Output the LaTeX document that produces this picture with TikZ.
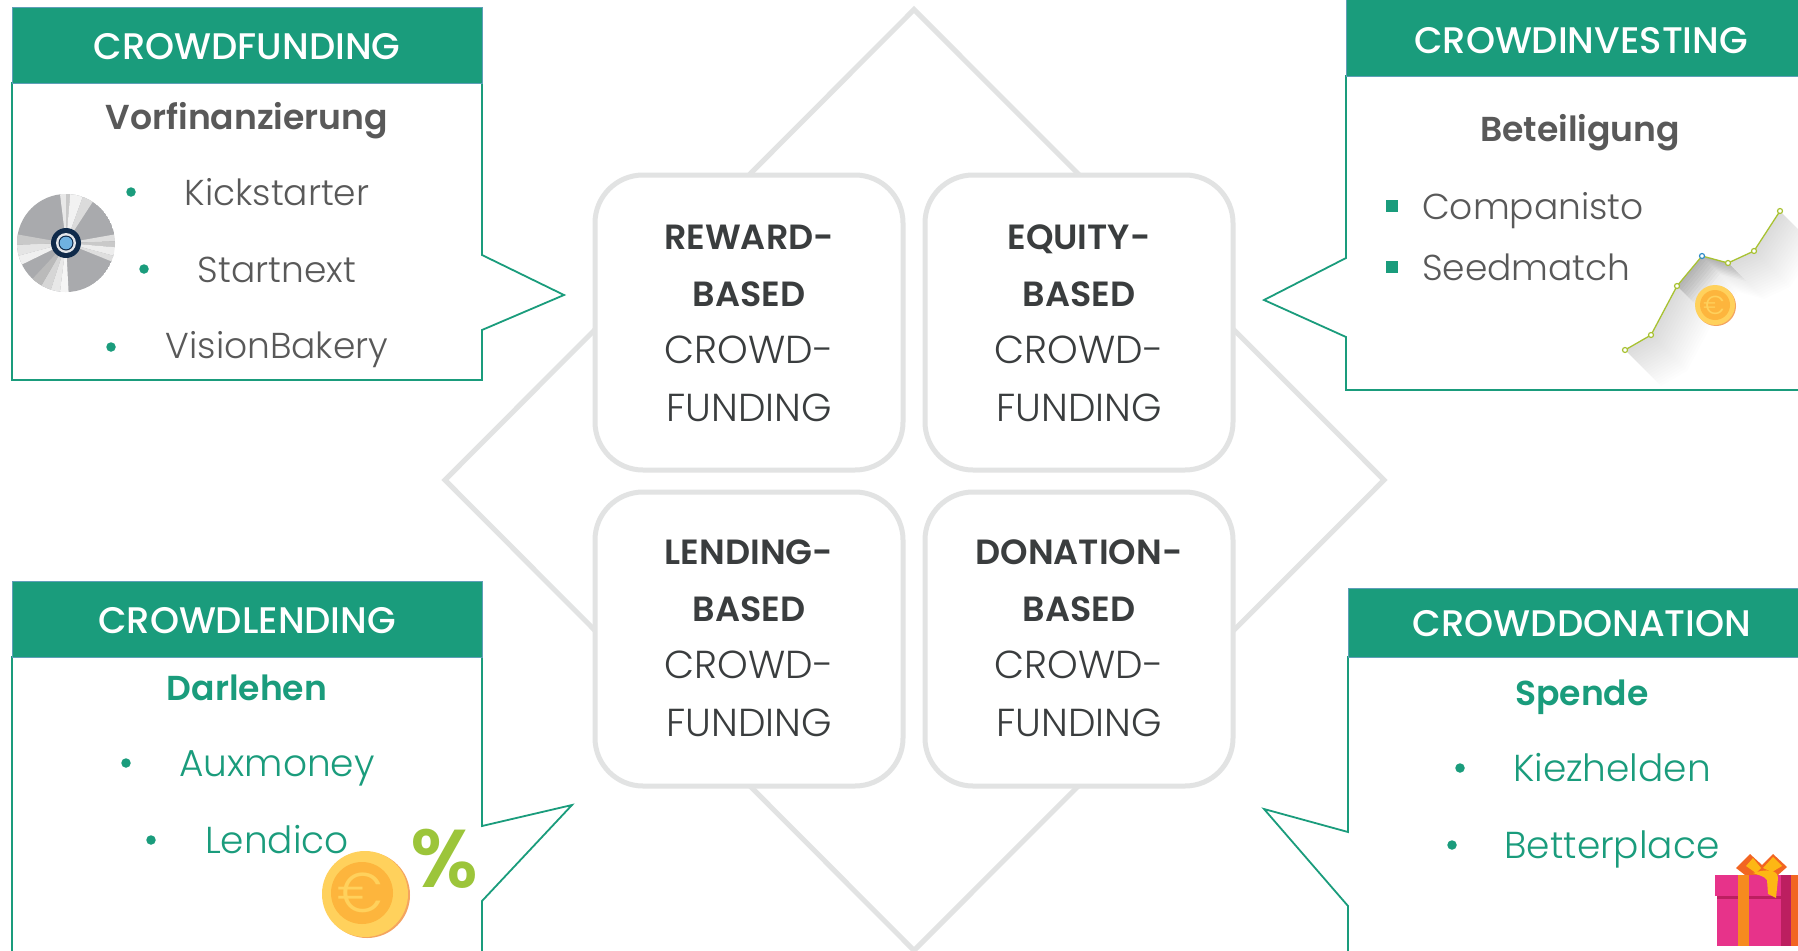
\documentclass[tikz,border=0pt]{standalone}
\usepackage{fontspec}
\setmainfont{Poppins Light}[BoldFont={Poppins SemiBold}]
\newfontfamily\headfont{Poppins Medium}
\usepackage{tikz}

\definecolor{teal0}{HTML}{1A9C7C}
\definecolor{rim0}{HTML}{5F9FB8}
\definecolor{rule0}{HTML}{E2E3E3}
\definecolor{ink0}{HTML}{595959}
\definecolor{ink1}{HTML}{3A3D3E}
\definecolor{leaf0}{HTML}{A8C232}
\definecolor{coin0}{HTML}{FFD15C}
\definecolor{coin1}{HTML}{FDB53D}
\definecolor{coin2}{HTML}{F4A460}
\definecolor{rose0}{HTML}{E7338A}
\definecolor{rose1}{HTML}{BC1F60}
\definecolor{band0}{HTML}{F68B1F}
\definecolor{band1}{HTML}{F26522}
\definecolor{bow0}{HTML}{FDB714}
\newcommand{\panelhead}[1]{{\fontsize{35}{57.3}\selectfont\bfseries #1}}

\begin{document}
\begin{tikzpicture}[x=1pt, y=-1pt,
	callout/.style={draw=teal0, line width=1.8pt, fill=white, line join=miter},
	header/.style={draw=rim0, line width=1pt, fill=teal0},
	headtext/.style={text=white, font=\headfont\fontsize{37}{37}\selectfont, text height=27pt, text depth=0pt, inner sep=0pt},
	subgray/.style={text=ink0, font=\bfseries\fontsize{34.6}{35}\selectfont, text height=25pt, text depth=7pt, inner sep=0pt},
	subteal/.style={subgray, text=teal0},
	itemgray/.style={text=ink0, font=\fontsize{36}{36}\selectfont, text height=26pt, text depth=0pt, inner sep=0pt},
	itemteal/.style={itemgray, text=teal0, font=\fontsize{37.5}{38}\selectfont},
	dot/.style={circle, fill=teal0, inner sep=0pt, minimum size=9.5pt},
	sqdot/.style={rectangle, fill=teal0, inner sep=0pt, minimum size=11.5pt},
	panel/.style={draw=rule0, line width=5pt, fill=white, rounded corners=48pt},
	paneltext/.style={text=ink1, align=center, font=\fontsize{39}{57.3}\selectfont, inner sep=0pt},
	chartpt/.style={circle, draw=leaf0, fill=white, line width=1.2pt, inner sep=0pt, minimum size=5pt}]
	\useasboundingbox (0,0) rectangle (1798,950);
	\clip (0,0) rectangle (1798,950);
	\fill[white] (0,0) rectangle (1798,950);

	% centre
	\draw[rule0, line width=5pt, fill=white, line join=miter] (914,9.5) -- (1384,480) -- (914,950.5) -- (445,480) -- cycle;
	\draw[panel] (595,175) rectangle (903,470);
	\draw[panel] (925,175) rectangle (1233,470);
	\draw[panel] (595,492) rectangle (903,786);
	\draw[panel] (925,492) rectangle (1233,786);
	\node[paneltext] (nodeReward) at (749,323) {\panelhead{REWARD-}\\\panelhead{BASED}\\CROWD-\\FUNDING};
	\node[paneltext] (nodeEquity) at (1079,323) {\panelhead{EQUITY-}\\\panelhead{BASED}\\CROWD-\\FUNDING};
	\node[paneltext] (nodeLending) at (749,638) {\panelhead{LENDING-}\\\panelhead{BASED}\\CROWD-\\FUNDING};
	\node[paneltext] (nodeDonation) at (1079,638) {\panelhead{DONATION-}\\\panelhead{BASED}\\CROWD-\\FUNDING};

	% top left
	\draw[callout] (12,83) -- (482,83) -- (482,255) -- (564,295) -- (482,330) -- (482,380) -- (12,380) -- cycle;
	\draw[header] (12,8) rectangle (482,83);
	\node[headtext] (nodeFunding) at (247,46) {CROWDFUNDING};
	\node[subgray] (nodeVor) at (247,120) {Vorfinanzierung};
	\node[dot] (dotKick) at (131,192) {};
	\node[dot] (dotStart) at (144,269) {};
	\node[dot] (dotVision) at (111,347) {};
	\node[itemgray] (nodeKick) at (277,192) {Kickstarter};
	\node[itemgray] (nodeStart) at (277,269) {Startnext};
	\node[itemgray] (nodeVision) at (277,345) {VisionBakery};

	% disc
	\begin{scope}[shift={(66,243)}]
		\clip (0,0) circle (49);
		\fill[fill={rgb,255:red,169;green,170;blue,173}] (0,0) circle (49);
		\foreach \a/\b/\c in {263/270/black!9, 270/275/black!21, 275/290/black!5, 290/303/black!14,
			350/358/black!13, 358/365/black!21, 365/375/black!7, 375/382/black!13,
			87/97/black!4, 97/108/black!9, 108/120/black!16, 120/133/black!27,
			154/165/black!6, 165/178/black!10, 178/190/black!21}
			\fill[\c] (0,0) -- (\a:80) -- (\b:80) -- cycle;
		\fill[fill={rgb,255:red,15;green,42;blue,74}] (0,0) circle (15);
		\fill[fill={rgb,255:red,227;green,230;blue,234}] (0,0) circle (10);
		\fill[fill={rgb,255:red,15;green,42;blue,74}] (0,0) circle (7.5);
		\fill[fill={rgb,255:red,111;green,177;blue,224}] (0,0) circle (6.3);
	\end{scope}

	% top right
	\draw[callout] (1346,76) -- (1346,258) -- (1264,300) -- (1346,337) -- (1346,390) -- (1810,390) -- (1810,76) -- cycle;
	\draw[header] (1346,-5) rectangle (1810,76);
	\node[headtext] (nodeInvesting) at (1581,40) {CROWDINVESTING};
	\node[subgray] (nodeBet) at (1580,132) {Beteiligung};
	\node[sqdot] (dotComp) at (1392,206) {};
	\node[sqdot] (dotSeed) at (1392,267) {};
	\node[itemgray, anchor=west] (nodeComp) at (1422,206) {Companisto};
	\node[itemgray, anchor=west] (nodeSeed) at (1422,267) {Seedmatch};

	% chart
	\coordinate (pt0) at (1625,350);
	\coordinate (pt1) at (1651,335);
	\coordinate (pt2) at (1677,286);
	\coordinate (pt3) at (1702,256);
	\coordinate (pt4) at (1728,263);
	\coordinate (pt5) at (1754,251);
	\coordinate (pt6) at (1780,211);
	\foreach \k in {2,4,...,36}
		\fill[black, opacity=0.007] (pt0) -- (pt1) -- (pt2) -- (pt3) -- (pt4) -- (pt5) -- (pt6)
			-- ([shift={(\k,\k)}]pt6) -- ([shift={(\k,\k)}]pt5) -- ([shift={(\k,\k)}]pt4) -- ([shift={(\k,\k)}]pt3)
			-- ([shift={(\k,\k)}]pt2) -- ([shift={(\k,\k)}]pt1) -- ([shift={(\k,\k)}]pt0) -- cycle;
	\foreach \k in {2,4,...,18}
		\fill[black, opacity=0.02] (pt2) -- (pt3) -- (pt4)
			-- ([shift={(\k,\k)}]pt4) -- ([shift={(\k,\k)}]pt3) -- ([shift={(\k,\k)}]pt2) -- cycle;
	\draw[leaf0, line width=1.3pt] (pt0) -- (pt1) -- (pt2) -- (pt3) -- (pt4) -- (pt5) -- (pt6);
	\foreach \p in {pt0,pt1,pt2,pt4,pt5,pt6}
		\node[chartpt] (mark\p) at (\p) {};
	\node[chartpt, draw={rgb,255:red,47;green,140;blue,200}] (markpt3) at (pt3) {};
	\fill[coin2] (1716,306) circle (20);
	\fill[coin0] (1715,305) circle (20);
	\fill[coin1] (1715,305) circle (15);
	\node[text=coin0, inner sep=0pt, font=\fontsize{26}{26}\selectfont] (euroSmall) at (1714,305) {€};

	% bottom left
	\draw[callout] (12,657) -- (482,657) -- (482,826) -- (572,805) -- (482,901) -- (482,960) -- (12,960) -- cycle;
	\draw[header] (12,581) rectangle (482,657);
	\node[headtext] (nodeLendingHead) at (247,620) {CROWDLENDING};
	\node[subteal] (nodeDar) at (247,691) {Darlehen};
	\node[dot] (dotAux) at (126,763) {};
	\node[dot] (dotLend) at (151,840) {};
	\node[itemteal] (nodeAux) at (277,763) {Auxmoney};
	\node[itemteal] (nodeLend) at (277,840) {Lendico};
	\fill[coin2] (367,895) circle (43);
	\fill[coin0] (365,894) circle (43);
	\fill[coin1] (362,893) circle (31);
	\node[text=coin0, inner sep=0pt, font=\fontsize{56}{56}\selectfont] (euroBig) at (360,893) {€};
	\node[text={rgb,255:red,156;green,197;blue,58}, inner sep=0pt, font=\bfseries\fontsize{82}{82}\selectfont] (nodePercent) at (444,859) {\%};

	% bottom right
	\draw[callout] (1348,657) -- (1348,832) -- (1264,809) -- (1348,906) -- (1348,960) -- (1810,960) -- (1810,657) -- cycle;
	\draw[header] (1348,588) rectangle (1810,657);
	\node[headtext] (nodeDonationHead) at (1582,623) {CROWDDONATION};
	\node[subteal] (nodeSpende) at (1582,696) {Spende};
	\node[dot] (dotKiez) at (1460,768) {};
	\node[dot] (dotBetter) at (1452,845) {};
	\node[itemteal] (nodeKiez) at (1612,768) {Kiezhelden};
	\node[itemteal] (nodeBetter) at (1612,845) {Betterplace};

	% gift
	\fill[band1] (1736,868) -- (1750,854) -- (1762,865) -- (1773,854) -- (1787,867) -- (1778,875) -- (1745,875) -- cycle;
	\fill[bow0] (1746,866) -- (1753,858) -- (1761,868) -- (1756,873) -- cycle;
	\fill[bow0] (1763,868) -- (1773,857) -- (1782,866) -- (1772,872) -- cycle;
	\fill[rose0] (1717,896) rectangle (1798,946);
	\fill[rose0] (1715,875) rectangle (1798,896);
	\fill[rose1] (1717,896) rectangle (1798,899);
	\fill[rose1] (1781,875) rectangle (1791,946);
	\fill[band0] (1738,875) rectangle (1749,946);
	\fill[band1] (1791,875) rectangle (1798,946);
	\fill[bow0] (1753,873) .. controls (1765,869) and (1778,869) .. (1778,878) -- (1776,898) -- (1768,894) -- (1767,880) .. controls (1764,876) and (1758,875) .. (1753,873) -- cycle;
\end{tikzpicture}
\end{document}
